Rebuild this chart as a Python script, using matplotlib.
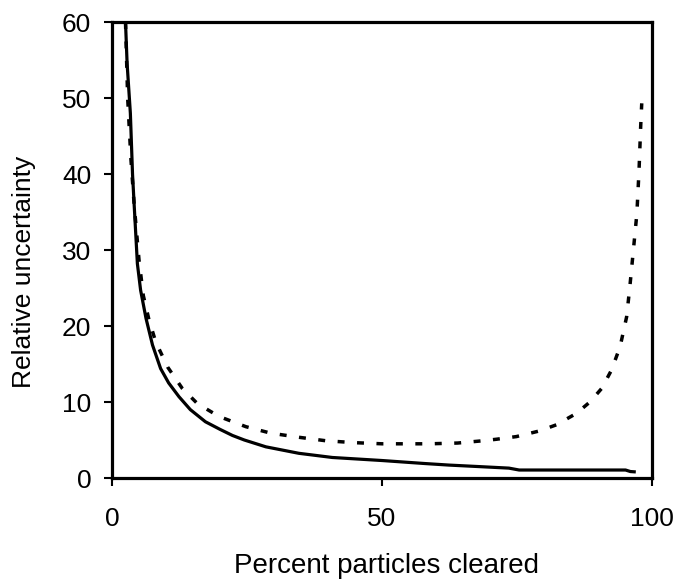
import matplotlib
matplotlib.use("Agg")
import matplotlib.pyplot as plt

plt.rcParams['font.family'] = ['Liberation Sans', 'DejaVu Sans']

# Solid curve
solid_x = [2.5, 2.8, 3.4, 3.8, 4.1, 4.7, 5.3, 6.3, 7.5, 9.0, 10.5, 12.4, 14.5, 17.3,
           20.0, 22.3, 24.5, 28.5, 34.6, 40.8, 50.0, 58.0, 62.4, 68.0, 73.5, 75.4,
           85.0, 95.1, 96.0, 97.0]
solid_y = [60, 54.5, 48, 40, 36, 28.2, 24.7, 21.0, 17.5, 14.4, 12.5, 10.7, 9.0, 7.4,
           6.4, 5.6, 5.0, 4.1, 3.25, 2.7, 2.3, 1.9, 1.7, 1.5, 1.3, 1.05,
           1.05, 1.05, 0.85, 0.8]

# Dashed curve
dash_x = [2.5, 2.9, 3.5, 4.1, 5.0, 5.8, 6.85, 8.1, 10.3, 13.0, 15.8, 19.8, 24.8, 29.4,
          34.7, 39.6, 44.9, 50.0, 58.8, 64.0, 68.7, 71.2, 74.9, 79.2, 82.3, 86.0,
          88.5, 90.7, 92.5, 94.1, 95.3, 95.9, 96.5, 97.2, 97.6, 97.9, 98.1]
dash_y = [60, 50, 42, 36, 28.7, 24.0, 20.8, 17.9, 14.6, 11.8, 9.8, 8.1, 6.75, 5.9,
          5.35, 4.9, 4.65, 4.5, 4.5, 4.6, 4.9, 5.1, 5.45, 6.2, 7.0, 8.5,
          10.0, 11.8, 14.2, 17.3, 21.2, 25.2, 29.6, 34.8, 40.5, 46.2, 49.3]

x_ticks = [0, 50, 100]
y_ticks = [0, 10, 20, 30, 40, 50, 60]

fig = plt.figure(figsize=(6.79, 5.79), dpi=100)
ax = fig.add_axes([112 / 679, 1 - 478 / 579, (652 - 112) / 679, (478 - 22) / 579])

ax.plot(solid_x, solid_y, color='black', lw=2.3, solid_capstyle='butt')
ax.plot(dash_x, dash_y, color='black', lw=2.5, dashes=(2, 3.6), dash_capstyle='butt')

ax.set_xlim(0, 100)
ax.set_ylim(0, 60)
ax.set_xticks(x_ticks)
ax.set_yticks(y_ticks)
ax.tick_params(axis='both', direction='out', length=6, width=1.5, labelsize=19)
ax.tick_params(axis='x', pad=15)
ax.tick_params(axis='y', pad=9)
for s in ax.spines.values():
    s.set_linewidth(2.3)

fig.text(386 / 679, 1 - 566 / 579, 'Percent particles cleared', ha='center', va='center', fontsize=20)
fig.text(24 / 679, 1 - 272 / 579, 'Relative uncertainty', ha='center', va='center',
         rotation=90, fontsize=19)

fig.savefig('out.png', dpi=100)
